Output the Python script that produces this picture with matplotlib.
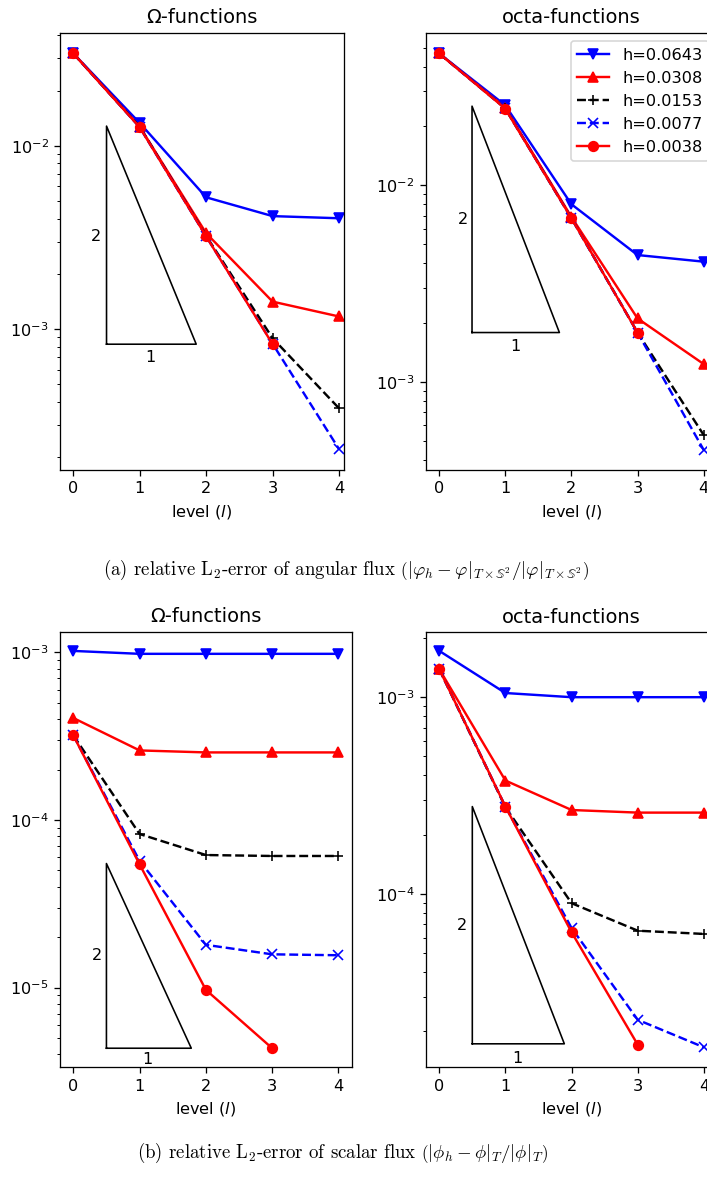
import numpy as np
import matplotlib
matplotlib.use('Agg')
import matplotlib.pyplot as plt

# levels
levels = [0, 1, 2, 3, 4]
labels = ['h=0.0643', 'h=0.0308', 'h=0.0153', 'h=0.0077', 'h=0.0038']
styles = ['b-v', 'r-^', 'k--+', 'b--x', 'r-o']

# (a) angular flux, Omega-functions
ang_omega = [
    [0.0319, 0.0133, 0.00523, 0.00413, 0.00402],
    [0.0319, 0.0127, 0.00333, 0.00141, 0.00117],
    [0.0319, 0.0127, 0.00322, 0.00089, 0.000369],
    [0.0319, 0.0126, 0.00320, 0.00083, 0.000221],
    [0.0319, 0.0126, 0.00320, 0.000826],
]
# (a) angular flux, octa-functions
ang_octa = [
    [0.0468, 0.0255, 0.0080, 0.00441, 0.00408],
    [0.0468, 0.0248, 0.0069, 0.00210, 0.00123],
    [0.0468, 0.0246, 0.0068, 0.00178, 0.000536],
    [0.0468, 0.0246, 0.0068, 0.00178, 0.000450],
    [0.0468, 0.0245, 0.0068, 0.00178],
]
# (b) scalar flux, Omega-functions
sca_omega = [
    [1.02e-3, 9.8e-4, 9.8e-4, 9.8e-4, 9.8e-4],
    [4.06e-4, 2.6e-4, 2.53e-4, 2.53e-4, 2.53e-4],
    [3.2e-4, 8.25e-5, 6.18e-5, 6.1e-5, 6.1e-5],
    [3.2e-4, 5.7e-5, 1.8e-5, 1.58e-5, 1.56e-5],
    [3.2e-4, 5.44e-5, 9.7e-6, 4.35e-6],
]
# (b) scalar flux, octa-functions
sca_octa = [
    [1.72e-3, 1.05e-3, 1.0e-3, 1.0e-3, 1.0e-3],
    [1.39e-3, 3.77e-4, 2.67e-4, 2.59e-4, 2.59e-4],
    [1.39e-3, 2.76e-4, 8.97e-5, 6.5e-5, 6.26e-5],
    [1.39e-3, 2.78e-4, 6.7e-5, 2.29e-5, 1.66e-5],
    [1.39e-3, 2.78e-4, 6.38e-5, 1.71e-5],
]

# slope triangles: x0, x1, y_bottom, y_top, pos of "2", pos of "1"
tri_ang_omega = [0.5, 1.85, 8.26e-4, 1.28e-2, (0.34, 3.2e-3), (1.16, 7.0e-4)]
tri_ang_octa = [0.5, 1.82, 1.78e-3, 2.52e-2, (0.36, 6.7e-3), (1.15, 1.52e-3)]
tri_sca_omega = [0.5, 1.78, 4.35e-6, 5.5e-5, (0.36, 1.55e-5), (1.12, 3.74e-6)]
tri_sca_octa = [0.5, 1.89, 1.73e-5, 2.78e-4, (0.35, 6.9e-5), (1.18, 1.46e-5)]

# rendered a bit larger than default, like the original
DPI = 116
fig = plt.figure(figsize=(707 / DPI, 1189 / DPI), dpi=DPI)

ax1 = fig.add_axes([0.0849, 0.6047, 0.4017, 0.3675])
ax2 = fig.add_axes([0.6021, 0.6047, 0.412, 0.3675])
ax3 = fig.add_axes([0.0849, 0.1024, 0.4126, 0.3664])
ax4 = fig.add_axes([0.6025, 0.1024, 0.412, 0.3659])


def draw(ax, data, tri, title, xlim, ylim):
    for vals, st, lab in zip(data, styles, labels):
        ax.plot(levels[:len(vals)], vals, st, label=lab)
    x0, x1, yb, yt, p2, p1 = tri
    ax.plot([x0, x0, x1, x0], [yb, yt, yb, yb], 'k-', lw=1)
    ax.text(p2[0], p2[1], '2', ha='center', va='center', fontsize=10)
    ax.text(p1[0], p1[1], '1', ha='center', va='center', fontsize=10)
    ax.set_yscale('log')
    ax.set_xlim(*xlim)
    ax.set_ylim(*ylim)
    ax.set_xticks(levels)
    ax.set_xlabel('level ($l$)')
    ax.set_title(title)


draw(ax1, ang_omega, tri_ang_omega, 'Ω-functions', (-0.2, 4.075), (1.70e-4, 0.0412))
draw(ax2, ang_octa, tri_ang_octa, 'octa-functions', (-0.2, 4.2), (3.56e-4, 0.0593))
draw(ax3, sca_omega, tri_sca_omega, 'Ω-functions', (-0.2, 4.2), (3.35e-6, 1.33e-3))
draw(ax4, sca_octa, tri_sca_octa, 'octa-functions', (-0.2, 4.2), (1.315e-5, 2.14e-3))

ax2.legend(loc='upper right')

# captions
fig.text(0.49, 0.5206,
         r'(a) relative L$_2$-error of angular flux '
         r'$\left(|\varphi_h - \varphi|_{T\times\mathbb{S}^2}/|\varphi|_{T\times\mathbb{S}^2}\right)$',
         ha='center', va='center', fontsize=11.7, family='cmr10', math_fontfamily='cm')
fig.text(0.485, 0.0303,
         r'(b) relative L$_2$-error of scalar flux '
         r'$\left(|\phi_h - \phi|_T/|\phi|_T\right)$',
         ha='center', va='center', fontsize=11.7, family='cmr10', math_fontfamily='cm')

fig.savefig('out.png', dpi=DPI)
